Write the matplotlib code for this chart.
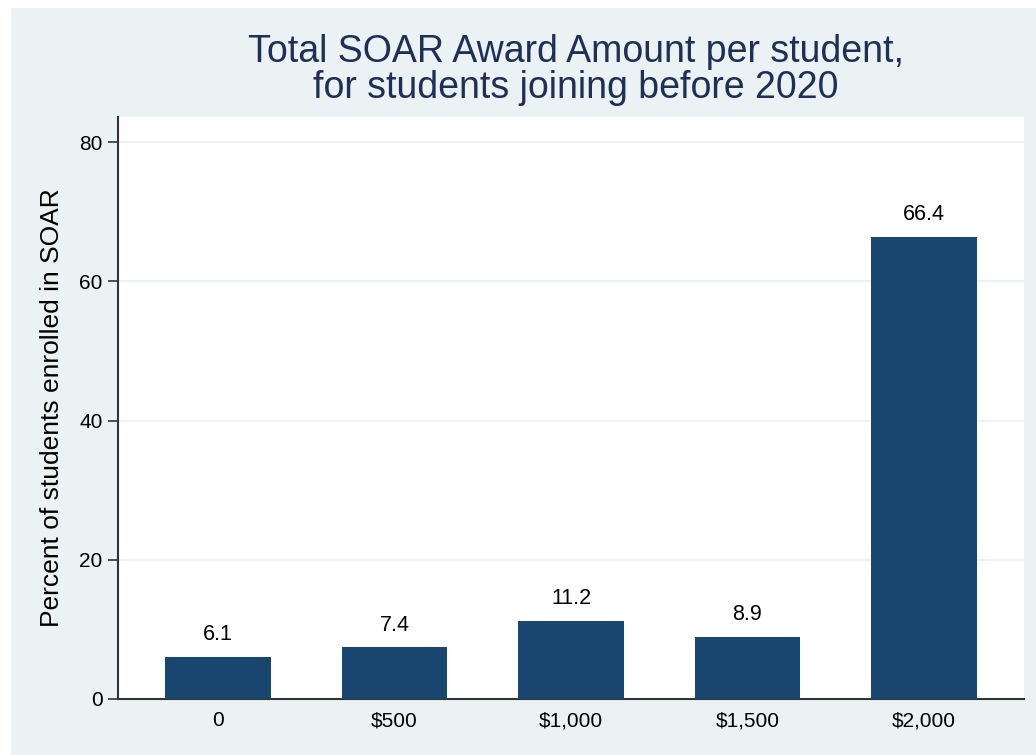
import matplotlib
matplotlib.use('Agg')
from matplotlib import pyplot as plt
from matplotlib.patches import Rectangle

categories = ['0', '$500', '$1,000', '$1,500', '$2,000']
percents = [6.1, 7.4, 11.2, 8.9, 66.4]
yticks = [0, 20, 40, 60, 80]

navy = '#1a476f'
title_col = '#1f2f55'
bg = '#eaf2f3'

plt.rcParams['font.family'] = ['Liberation Sans', 'DejaVu Sans']

fig = plt.figure(figsize=(10.36, 7.55), dpi=100, facecolor='white')
fig.patches.append(Rectangle((11 / 1036, 0), 1, 747 / 755, transform=fig.transFigure,
                             facecolor=bg, edgecolor='none', zorder=-10))

ax = fig.add_axes([118 / 1036, 1 - 699 / 755, (1024 - 118) / 1036, (699 - 117) / 755])
ax.set_facecolor('white')

x = range(len(categories))
ax.bar(x, percents, width=0.6, color=navy, zorder=3)
for xi, v in zip(x, percents):
    ax.text(xi, v + 3.2, f'{v:.1f}', ha='center', va='center', fontsize=15.5, color='black')

ax.set_xlim(-0.567, 4.567)
ax.set_ylim(0, 83.6)
ax.set_xticks(list(x))
ax.set_xticklabels(categories, fontsize=15)
ax.set_yticks(yticks)
ax.set_yticklabels([str(t) for t in yticks], fontsize=15)
ax.tick_params(axis='x', length=0, pad=9)
ax.tick_params(axis='y', length=7, width=1.2, color='#333333', pad=4)
ax.yaxis.grid(True, color=bg, linewidth=1.5, zorder=0)
ax.set_axisbelow(True)

for s in ['top', 'right']:
    ax.spines[s].set_visible(False)
for s in ['left', 'bottom']:
    ax.spines[s].set_color('#333333')
    ax.spines[s].set_linewidth(1.5)

ax.set_ylabel('Percent of students enrolled in SOAR', fontsize=19, labelpad=11)

fig.text(576 / 1036, 1 - 70 / 755, 'Total SOAR Award Amount per student,\nfor students joining before 2020',
         ha='center', va='center', fontsize=27, color=title_col, linespacing=1.02)

fig.savefig('out.png', dpi=100, facecolor=fig.get_facecolor())
